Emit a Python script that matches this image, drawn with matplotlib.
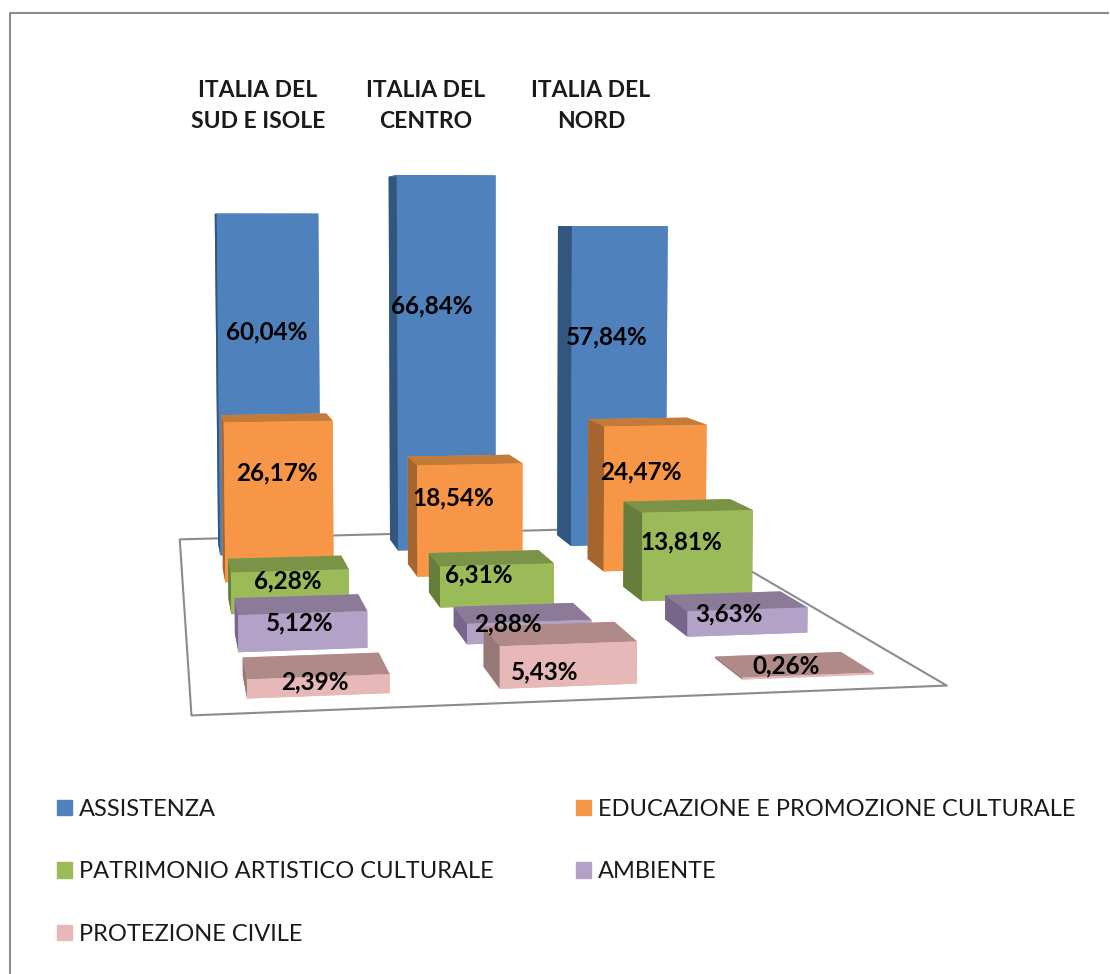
import matplotlib
matplotlib.use("Agg")
import matplotlib.pyplot as plt
from matplotlib.lines import Line2D
from matplotlib.patches import Patch
from mpl_toolkits.mplot3d.art3d import Poly3DCollection

plt.rcParams["font.family"] = ["Lato", "DejaVu Sans"]

regions = ["ITALIA DEL\nSUD E ISOLE", "ITALIA DEL\nCENTRO", "ITALIA DEL\nNORD"]
series = ["ASSISTENZA", "EDUCAZIONE E PROMOZIONE CULTURALE",
          "PATRIMONIO ARTISTICO CULTURALE", "AMBIENTE", "PROTEZIONE CIVILE"]

assistenza = [60.04, 66.84, 57.84]
educazione = [26.17, 18.54, 24.47]
patrimonio = [6.28, 6.31, 13.81]
ambiente = [5.12, 2.88, 3.63]
protezione = [2.39, 5.43, 0.26]

front_colors = ["#4F81BD", "#F79646", "#9BBB59", "#B3A2C7", "#E6B9B8"]
top_colors = ["#4A76AC", "#C47A38", "#7A9347", "#8B7A98", "#AF8A88"]
side_colors = ["#33567F", "#A6642E", "#677D3B", "#75668A", "#967878"]

BAR_W = 0.56
BAR_D = 0.47
# labels are not centred on the bars in the middle and right columns
LABEL_X = [0.5, 0.44, 0.47]
# height of the label on its bar, per series
LABEL_Z = [0.65, 0.65, 0.58, 0.5, 0.1]

fig = plt.figure(figsize=(11.1, 9.74), dpi=100)
ax = fig.add_axes([-0.07, 0.102, 1.0, 1.0], projection="3d", computed_zorder=False)
ax.set_proj_type("persp", focal_length=0.38)
ax.view_init(elev=4.3, azim=-99.4)
ax.set_box_aspect((1, 1.43, 0.74), zoom=1.155)
ax.set_xlim(0, 3)
ax.set_ylim(0, 5)
ax.set_zlim(0, 70)
ax.set_axis_off()

floor = Poly3DCollection([[(0, 0, 0), (3, 0, 0), (3, 5, 0), (0, 5, 0)]],
                         facecolor="white", edgecolor="#8C8C8C", linewidth=1.5)
floor.set_zorder(0)
ax.add_collection3d(floor)

values = [assistenza, educazione, patrimonio, ambiente, protezione]
for s, vals in enumerate(values):
    row = len(values) - 1 - s
    for c in [2, 1, 0]:
        v = vals[c]
        x0 = c + (1 - BAR_W) / 2
        y0 = row + (1 - BAR_D) / 2
        # faces: bottom, top, front, back, left, right
        colors = [front_colors[s], top_colors[s], front_colors[s],
                  front_colors[s], side_colors[s], front_colors[s]]
        bar = ax.bar3d(x0, y0, 0, BAR_W, BAR_D, v, color=colors, shade=False,
                       edgecolor="none", linewidth=0)
        bar.set_zorder(10 + s * 3 + (2 - c) * 0.1)
        ax.text(c + LABEL_X[c], row + 0.5, v * LABEL_Z[s], f"{v:.2f}%".replace(".", ","),
                ha="center", va="center", fontsize=17.5, fontweight="bold",
                color="black", zorder=50)

for i, name in enumerate(regions):
    fig.text([258, 426, 591][i] / 1110, 1 - 106 / 974, name, ha="center", va="center",
             fontsize=16.5, fontweight="bold", color="#1a1a1a", linespacing=1.6)

handles = [Patch(color=front_colors[i]) for i in [0, 2, 4, 1, 3]]
labels = [series[i] for i in [0, 2, 4, 1, 3]]
fig.legend(handles, labels, ncol=2, loc="upper left", bbox_to_anchor=(45 / 1110, 1 - 787 / 974),
           frameon=False, fontsize=17, handlelength=0.63, handleheight=0.63,
           handletextpad=0.3, labelspacing=1.76, columnspacing=3.5, borderpad=0, labelcolor="#1a1a1a")

fig.add_artist(Line2D([10 / 1110, 10 / 1110, 1108 / 1110], [0, 1 - 13 / 974, 1 - 13 / 974],
                      color="#8C8C8C", linewidth=1.5))

fig.savefig("out.png", dpi=100)
